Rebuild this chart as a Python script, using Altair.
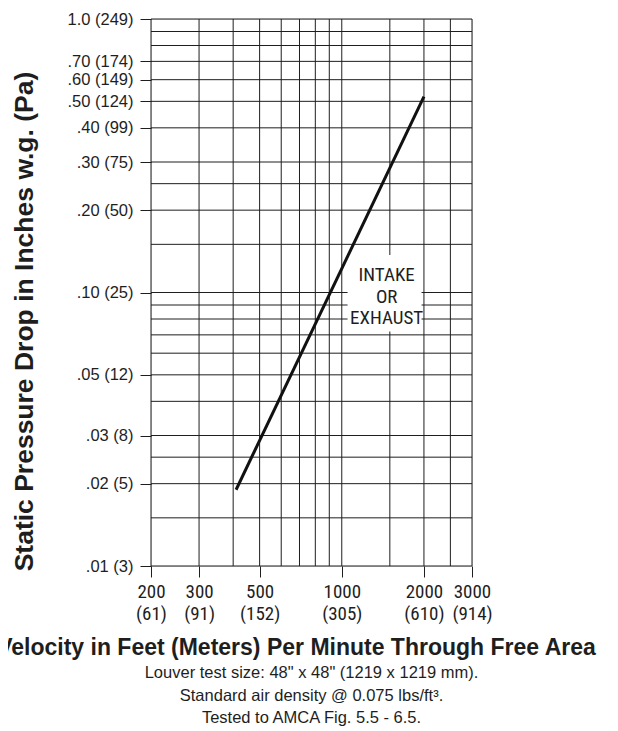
import altair as alt
import pandas as pd

# ---- data ----
velocity = [410, 2000]            # ft/min
pressure = [0.019, 0.52]          # in. w.g.

x_grid = [200, 300, 400, 500, 600, 700, 800, 900, 1000, 1500, 2000, 2500, 3000]
y_grid = [1.0, 0.9, 0.8, 0.7, 0.6, 0.5, 0.4, 0.3, 0.25, 0.2, 0.15, 0.1, 0.09,
          0.08, 0.07, 0.06, 0.05, 0.04, 0.03, 0.025, 0.02, 0.015, 0.01]

x_ticks = [200, 300, 500, 1000, 2000, 3000]
x_metric = ["(61)", "(91)", "(152)", "(305)", "(610)", "(914)"]

y_ticks = [1.0, 0.7, 0.6, 0.5, 0.4, 0.3, 0.2, 0.1, 0.05, 0.03, 0.02, 0.01]
y_inch = ["1.0", ".70", ".60", ".50", ".40", ".30", ".20", ".10", ".05", ".03", ".02", ".01"]
y_pa = ["(249)", "(174)", "(149)", "(124)", "(99)", "(75)", "(50)", "(25)", "(12)", "(8)", "(5)", "(3)"]

label_text = ["INTAKE\nOR\nEXHAUST"]
label_x = [1460]
label_y = [0.116]   # position of the first line
box_x = [1050]
box_x2 = [1960]
box_y = [0.072]
box_y2 = [0.137]

title_x = "Velocity in Feet (Meters) Per Minute Through Free Area"
title_y = "Static Pressure Drop in Inches w.g. (Pa)"
notes = ["Louver test size: 48\" x 48\" (1219 x 1219 mm).",
         "Standard air density @ 0.075 lbs/ft\u00b3.",
         "Tested to AMCA Fig. 5.5 - 6.5."]

# ---- build ----
NARROW = "Liberation Sans Narrow, Arial Narrow, Roboto Condensed, DejaVu Sans Condensed, sans-serif"
REG = "Liberation Sans, Arial, Helvetica, sans-serif"
INK = "#1e1e1e"

xexpr = "datum.label"
for v, m in reversed(list(zip(x_ticks, x_metric))):
    xexpr = f"datum.value == {v} ? ['{v}', '{m}'] : ({xexpr})"
yexpr = "datum.label"
for v, a, b in reversed(list(zip(y_ticks, y_inch, y_pa))):
    yexpr = f"abs(datum.value - {v}) < 1e-9 ? '{a} {b}' : ({yexpr})"

xs = alt.Scale(type="log", domain=[200, 3000], nice=False, zero=False)
ys = alt.Scale(type="log", domain=[0.01, 1.0], nice=False, zero=False)

line_df = pd.DataFrame({"v": velocity, "p": pressure})
xg_df = pd.DataFrame({"v": x_grid})
yg_df = pd.DataFrame({"p": y_grid})
box_df = pd.DataFrame({"x": box_x, "x2": box_x2, "y": box_y, "y2": box_y2})
lab_df = pd.DataFrame({"x": label_x, "y": label_y, "t": label_text})

xgrid = alt.Chart(xg_df).mark_rule(color=INK, strokeWidth=1).encode(
    x=alt.X("v:Q", scale=xs,
            axis=alt.Axis(values=x_ticks, labelExpr=xexpr, title=title_x,
                          grid=False, domain=False, tickColor=INK, tickSize=11,
                          labelFont=NARROW, labelFontSize=19, labelColor=INK,
                          labelPadding=5, labelLineHeight=22.5, labelFlush=False,
                          titleFont=REG, titleFontSize=23, titleFontWeight="bold",
                          titleColor=INK, titleX=145, titleY=70,
                          titleBaseline="top"))
)
ygrid = alt.Chart(yg_df).mark_rule(color=INK, strokeWidth=1).encode(
    y=alt.Y("p:Q", scale=ys,
            axis=alt.Axis(values=y_ticks, labelExpr=yexpr, title=title_y,
                          grid=False, domain=False, tickColor=INK, tickSize=11,
                          labelFont=REG, labelFontSize=16.5, labelColor=INK,
                          labelPadding=7, labelFlush=False,
                          titleFont=REG, titleFontSize=26.5, titleFontWeight="bold",
                          titleColor=INK, titleAngle=270, titleAlign="center",
                          titleBaseline="middle", titleX=-127, titleY=302))
)
box = alt.Chart(box_df).mark_rect(color="white").encode(
    x=alt.X("x:Q", scale=xs), x2="x2", y=alt.Y("y:Q", scale=ys), y2="y2"
)
curve = alt.Chart(line_df).mark_line(color="#111111", strokeWidth=3).encode(
    x=alt.X("v:Q", scale=xs), y=alt.Y("p:Q", scale=ys)
)
label = alt.Chart(lab_df).mark_text(
    font=NARROW, fontSize=19, color=INK, lineBreak="\n", lineHeight=21.7,
    align="center", baseline="middle"
).encode(x=alt.X("x:Q", scale=xs), y=alt.Y("y:Q", scale=ys), text="t:N")

chart = alt.layer(xgrid, ygrid, box, curve, label).properties(
    width=321, height=547,
    autosize=alt.AutoSizeParams(type="none"),
    padding={"left": 143, "top": 11, "right": 138, "bottom": 165},
    title=alt.TitleParams(text=notes, orient="bottom", anchor="middle",
                          font=REG, fontSize=16.5, fontWeight="normal",
                          color=INK, lineHeight=22.5, offset=6),
).configure_view(stroke=None).configure(background="white")

chart.save("out.html", embed_options={"renderer": "svg", "actions": False})
